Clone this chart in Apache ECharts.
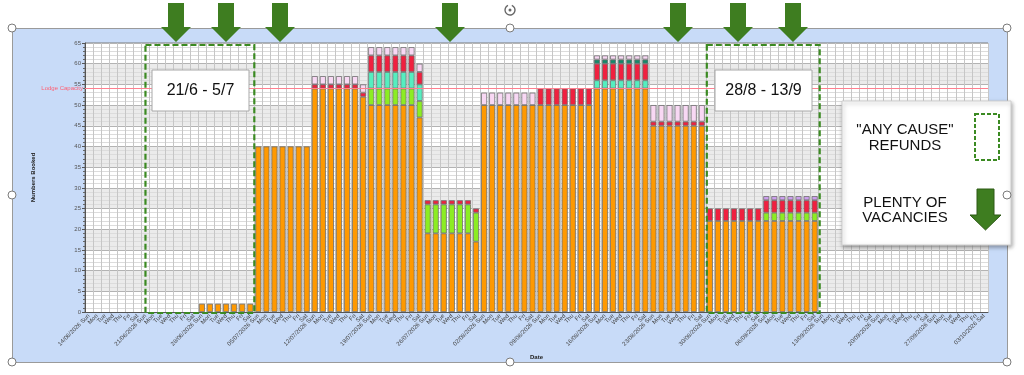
<!DOCTYPE html>
<html>
<head>
<meta charset="utf-8">
<script src="https://cdn.jsdelivr.net/npm/echarts@6/dist/echarts.min.js"></script>
<style>
  html, body { margin: 0; padding: 0; background: #fff; }
  /* slide picture frame behind the chart */
  #frame { position: absolute; left: 12px; top: 28px; width: 996px; height: 335px;
           background: #c8dbf8; border: 1px solid #9a9a9a; box-sizing: border-box; }
  #main { position: absolute; left: 0; top: 0; width: 1024px; height: 375px; }
</style>
</head>
<body>
<div id="frame"></div>
<div id="main"></div>
<script>
// week start dates (Sundays) and day names for the category labels
var weekStarts = ["14/06/2026", "21/06/2026", "28/06/2026", "05/07/2026", "12/07/2026", "19/07/2026",
  "26/07/2026", "02/08/2026", "09/08/2026", "16/08/2026", "23/08/2026", "30/08/2026",
  "06/09/2026", "13/09/2026", "20/09/2026", "27/09/2026"];
var dayNames = ["Sun", "Mon", "Tue", "Wed", "Thu", "Fri", "Sat"];
var lastLabel = "03/10/2026 Sat";

// stacked bookings per day, one row per week
var orangeBooked = [
  0, 0, 0, 0, 0, 0, 0,
  0, 0, 0, 0, 0, 0, 0,
  2, 2, 2, 2, 2, 2, 2,
  40, 40, 40, 40, 40, 40, 40,
  54, 54, 54, 54, 54, 54, 52,
  50, 50, 50, 50, 50, 50, 47,
  19, 19, 19, 19, 19, 19, 17,
  50, 50, 50, 50, 50, 50, 50,
  50, 50, 50, 50, 50, 50, 50,
  54, 54, 54, 54, 54, 54, 54,
  45, 45, 45, 45, 45, 45, 45,
  22, 22, 22, 22, 22, 22, 22,
  22, 22, 22, 22, 22, 22, 22,
  0, 0, 0, 0, 0, 0, 0,
  0, 0, 0, 0, 0, 0, 0,
  0, 0, 0, 0, 0, 0, 0
];
var greenBooked = [
  0, 0, 0, 0, 0, 0, 0,
  0, 0, 0, 0, 0, 0, 0,
  0, 0, 0, 0, 0, 0, 0,
  0, 0, 0, 0, 0, 0, 0,
  0, 0, 0, 0, 0, 0, 0,
  4, 4, 4, 4, 4, 4, 4,
  7, 7, 7, 7, 7, 7, 7,
  0, 0, 0, 0, 0, 0, 0,
  0, 0, 0, 0, 0, 0, 0,
  0, 0, 0, 0, 0, 0, 0,
  0, 0, 0, 0, 0, 0, 0,
  0, 0, 0, 0, 0, 0, 0,
  2, 2, 2, 2, 2, 2, 2,
  0, 0, 0, 0, 0, 0, 0,
  0, 0, 0, 0, 0, 0, 0,
  0, 0, 0, 0, 0, 0, 0
];
var aquaBooked = [
  0, 0, 0, 0, 0, 0, 0,
  0, 0, 0, 0, 0, 0, 0,
  0, 0, 0, 0, 0, 0, 0,
  0, 0, 0, 0, 0, 0, 0,
  0, 0, 0, 0, 0, 0, 0,
  4, 4, 4, 4, 4, 4, 4,
  0, 0, 0, 0, 0, 0, 0,
  0, 0, 0, 0, 0, 0, 0,
  0, 0, 0, 0, 0, 0, 0,
  2, 2, 2, 2, 2, 2, 2,
  0, 0, 0, 0, 0, 0, 0,
  0, 0, 0, 0, 0, 0, 0,
  0, 0, 0, 0, 0, 0, 0,
  0, 0, 0, 0, 0, 0, 0,
  0, 0, 0, 0, 0, 0, 0,
  0, 0, 0, 0, 0, 0, 0
];
var redBooked = [
  0, 0, 0, 0, 0, 0, 0,
  0, 0, 0, 0, 0, 0, 0,
  0, 0, 0, 0, 0, 0, 0,
  0, 0, 0, 0, 0, 0, 0,
  1, 1, 1, 1, 1, 1, 1,
  4, 4, 4, 4, 4, 4, 3,
  1, 1, 1, 1, 1, 1, 1,
  0, 0, 0, 0, 0, 0, 0,
  4, 4, 4, 4, 4, 4, 4,
  4, 4, 4, 4, 4, 4, 4,
  1, 1, 1, 1, 1, 1, 1,
  3, 3, 3, 3, 3, 3, 3,
  3, 3, 3, 3, 3, 3, 3,
  0, 0, 0, 0, 0, 0, 0,
  0, 0, 0, 0, 0, 0, 0,
  0, 0, 0, 0, 0, 0, 0
];
var tealBooked = [
  0, 0, 0, 0, 0, 0, 0,
  0, 0, 0, 0, 0, 0, 0,
  0, 0, 0, 0, 0, 0, 0,
  0, 0, 0, 0, 0, 0, 0,
  0, 0, 0, 0, 0, 0, 0,
  0, 0, 0, 0, 0, 0, 0,
  0, 0, 0, 0, 0, 0, 0,
  0, 0, 0, 0, 0, 0, 0,
  0, 0, 0, 0, 0, 0, 0,
  1, 1, 1, 1, 1, 1, 1,
  0, 0, 0, 0, 0, 0, 0,
  0, 0, 0, 0, 0, 0, 0,
  0, 0, 0, 0, 0, 0, 0,
  0, 0, 0, 0, 0, 0, 0,
  0, 0, 0, 0, 0, 0, 0,
  0, 0, 0, 0, 0, 0, 0
];
var pinkBooked = [
  0, 0, 0, 0, 0, 0, 0,
  0, 0, 0, 0, 0, 0, 0,
  0, 0, 0, 0, 0, 0, 0,
  0, 0, 0, 0, 0, 0, 0,
  2, 2, 2, 2, 2, 2, 2,
  2, 2, 2, 2, 2, 2, 2,
  0, 0, 0, 0, 0, 0, 0,
  3, 3, 3, 3, 3, 3, 3,
  0, 0, 0, 0, 0, 0, 0,
  1, 1, 1, 1, 1, 1, 1,
  4, 4, 4, 4, 4, 4, 4,
  0, 0, 0, 0, 0, 0, 0,
  0, 0, 0, 0, 0, 0, 0,
  0, 0, 0, 0, 0, 0, 0,
  0, 0, 0, 0, 0, 0, 0,
  0, 0, 0, 0, 0, 0, 0
];
var lilacBooked = [
  0, 0, 0, 0, 0, 0, 0,
  0, 0, 0, 0, 0, 0, 0,
  0, 0, 0, 0, 0, 0, 0,
  0, 0, 0, 0, 0, 0, 0,
  0, 0, 0, 0, 0, 0, 0,
  0, 0, 0, 0, 0, 0, 0,
  0, 0, 0, 0, 0, 0, 0,
  0, 0, 0, 0, 0, 0, 0,
  0, 0, 0, 0, 0, 0, 0,
  0, 0, 0, 0, 0, 0, 0,
  0, 0, 0, 0, 0, 0, 0,
  0, 0, 0, 0, 0, 0, 0,
  1, 1, 1, 1, 1, 1, 1,
  0, 0, 0, 0, 0, 0, 0,
  0, 0, 0, 0, 0, 0, 0,
  0, 0, 0, 0, 0, 0, 0
];
var lodgeCapacity = 54;

// build the category labels
var categories = [];
for (var w = 0; w < weekStarts.length; w++) {
  for (var d = 0; d < 7; d++) {
    categories.push(d == 0 ? weekStarts[w] + " Sun" : dayNames[d]);
  }
}
categories[categories.length - 1] = lastLabel;

var stackColors = ["#ff9900", "#8ced22", "#55eec0", "#f0203f", "#128a6a", "#f8d8f4", "#cc9eee"];
var stackData = [orangeBooked, greenBooked, aquaBooked, redBooked, tealBooked, pinkBooked, lilacBooked];

var chart = echarts.init(document.getElementById("main"));

var series = [];
for (var i = 0; i < stackData.length; i++) {
  series.push({
    type: "bar",
    stack: "booked",
    barCategoryGap: "25%",
    data: stackData[i].map(function (v) { return v ? v : null; }),
    itemStyle: { color: stackColors[i], borderColor: "#6e6e6e", borderWidth: 0.8 },
    silent: true
  });
}
// lodge capacity line
series[0].markLine = {
  silent: true,
  symbol: "none",
  data: [{ yAxis: lodgeCapacity }],
  lineStyle: { color: "#ff8090", width: 1.2, type: "solid" },
  label: { position: "start", formatter: "Lodge Capacity", fontSize: 6, color: "#ff5f73", distance: 2 }
};

chart.setOption({
  animation: false,
  textStyle: { fontFamily: "Liberation Sans, Arial, sans-serif" },
  grid: { left: 85, right: 36, top: 43, bottom: 63, show: true, backgroundColor: "#fff", borderColor: "#7a7a7a", borderWidth: 1 },
  xAxis: {
    type: "category",
    data: categories,
    name: "Date",
    nameLocation: "middle",
    nameGap: 42,
    nameTextStyle: { fontSize: 6, fontWeight: "bold", color: "#222" },
    axisLine: { lineStyle: { color: "#555" } },
    axisTick: { interval: 0, length: 3, lineStyle: { color: "#555" } },
    axisLabel: { interval: 0, rotate: 45, fontSize: 6, color: "#444", margin: 3 },
    splitLine: { show: true, interval: 0, lineStyle: { color: "#c6c6c6", width: 1 } }
  },
  yAxis: {
    type: "value",
    min: 0,
    max: 65,
    interval: 5,
    name: "Numbers Booked",
    nameLocation: "middle",
    nameGap: 49,
    nameTextStyle: { fontSize: 6, fontWeight: "bold", color: "#222" },
    axisLine: { show: true, lineStyle: { color: "#555" } },
    axisTick: { show: true, length: 3, lineStyle: { color: "#555" } },
    minorTick: { show: true, splitNumber: 5, length: 2, lineStyle: { color: "#666" } },
    axisLabel: { fontSize: 6, color: "#555", margin: 4 },
    splitLine: { lineStyle: { color: "#b3b3b3" } },
    minorSplitLine: { show: true, lineStyle: { color: "#dcdcdc" } },
    splitArea: { show: true, areaStyle: { color: ["#ffffff", "#ebebeb"] } }
  },
  series: series
});

// ---- annotations drawn on top ----
function downArrow(cx, top, bottom, headH, shaftW, headW, fill, stroke) {
  var hs = shaftW / 2, hh = headW / 2, hy = bottom - headH;
  return {
    type: "polygon",
    z: 100,
    shape: { points: [[cx - hs, top], [cx + hs, top], [cx + hs, hy], [cx + hh, hy], [cx, bottom], [cx - hh, hy], [cx - hs, hy]] },
    style: { fill: fill, stroke: stroke, lineWidth: stroke ? 1 : 0 }
  };
}

var px = function (i) { return chart.convertToPixel({ xAxisIndex: 0 }, i); };
var bw = px(1) - px(0);
var yTop = chart.convertToPixel({ yAxisIndex: 0 }, 65) + 2;
var yBot = chart.convertToPixel({ yAxisIndex: 0 }, 0) + 1;
var refundBoxes = [[px(7), px(20) + bw / 2], [px(77) - bw / 2 + 1, px(90) + bw / 2 + 1]];

var g = [];
refundBoxes.forEach(function (b) {
  g.push({
    type: "rect", z: 90,
    shape: { x: b[0], y: yTop, width: b[1] - b[0], height: yBot - yTop },
    style: { fill: "none", stroke: "#3b8a22", lineWidth: 2.2, lineDash: [6, 3] }
  });
});

[176, 226, 280, 450, 678, 738, 793].forEach(function (cx) {
  g.push(downArrow(cx, 3, 42, 15, 16, 30, "#3e7d20"));
});

// date range boxes
[["21/6 - 5/7", 152], ["28/8 - 13/9", 715]].forEach(function (t) {
  g.push({
    type: "rect", z: 100,
    shape: { x: t[1], y: 70, width: 97, height: 41 },
    style: { fill: "#fff", stroke: "#a8a8a8", lineWidth: 1 }
  });
  g.push({
    type: "text", z: 101, x: t[1] + 48.5, y: 91,
    style: { text: t[0], fill: "#111", fontSize: 16, fontFamily: "Liberation Sans, Arial", align: "center", verticalAlign: "middle" }
  });
});

// key box
g.push({
  type: "rect", z: 100,
  shape: { x: 842, y: 101, width: 169, height: 144 },
  style: { fill: "#fff", stroke: "#cfcfcf", lineWidth: 1, shadowBlur: 4, shadowOffsetX: 1, shadowOffsetY: 2, shadowColor: "rgba(0,0,0,0.35)" }
});
g.push({
  type: "text", z: 101, x: 905, y: 138,
  style: { text: "\"ANY CAUSE\"\nREFUNDS", fill: "#111", fontSize: 15, lineHeight: 16, fontFamily: "Liberation Sans, Arial", align: "center", verticalAlign: "middle" }
});
g.push({
  type: "text", z: 101, x: 905, y: 210,
  style: { text: "PLENTY OF\nVACANCIES", fill: "#111", fontSize: 15, lineHeight: 15, fontFamily: "Liberation Sans, Arial", align: "center", verticalAlign: "middle" }
});
g.push({
  type: "rect", z: 101,
  shape: { x: 975, y: 114, width: 24, height: 46 },
  style: { fill: "none", stroke: "#3b8a22", lineWidth: 2, lineDash: [4, 2] }
});
g.push(downArrow(985.5, 189, 230, 15, 17, 31, "#3e7d20", "#2c5a15"));
g.push({ type: "group", z: 101, children: [] });

// selection handles of the slide picture
[[12, 28], [510, 28], [1007, 28], [12, 195], [1007, 195], [12, 362], [510, 362], [1007, 362]].forEach(function (p) {
  g.push({ type: "circle", z: 110, shape: { cx: p[0], cy: p[1], r: 4 }, style: { fill: "#fff", stroke: "#7a7a7a", lineWidth: 1 } });
});
g.push({ type: "arc", z: 110, shape: { cx: 510, cy: 10, r: 5, startAngle: -1.2, endAngle: 4.3 }, style: { fill: "none", stroke: "#666", lineWidth: 1.4 } });
g.push({ type: "circle", z: 110, shape: { cx: 510, cy: 10, r: 1.5 }, style: { fill: "#666" } });

chart.setOption({ graphic: g });
</script>
</body>
</html>
